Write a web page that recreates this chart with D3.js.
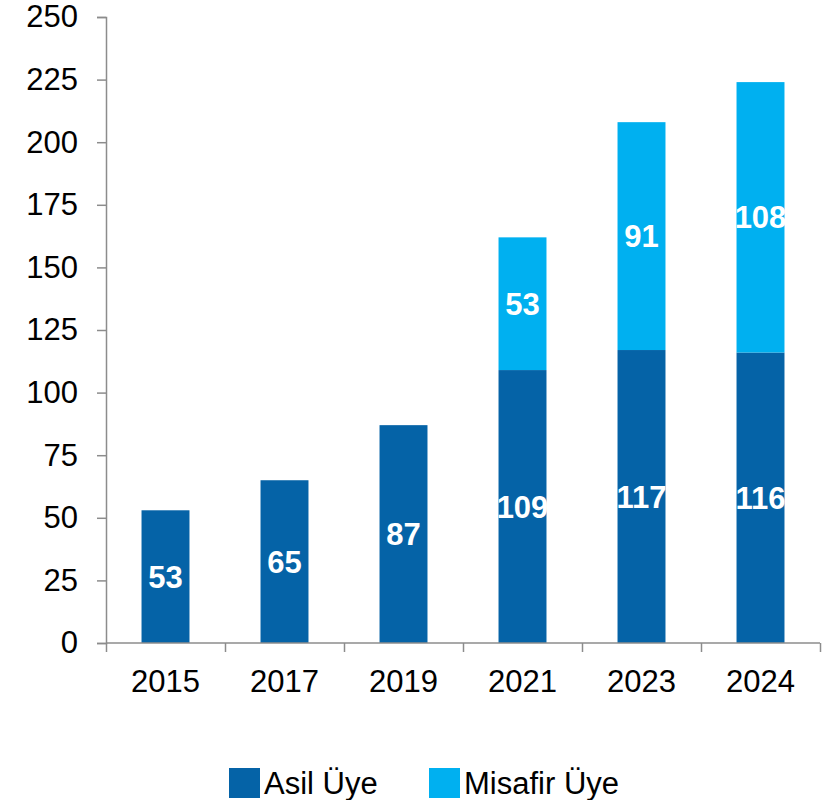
<!DOCTYPE html>
<html>
<head>
<meta charset="utf-8">
<script src="https://cdn.jsdelivr.net/npm/d3@7"></script>
<style>
  body { margin: 0; background: #fff; }
  text { font-family: "Liberation Sans", Arial, sans-serif; }
</style>
</head>
<body>
<script>
// data
let years = ["2015", "2017", "2019", "2021", "2023", "2024"];
let asil = [53, 65, 87, 109, 117, 116];
let misafir = [null, null, null, 53, 91, 108];
let seriesNames = ["Asil Üye", "Misafir Üye"];
let yTicks = [0, 25, 50, 75, 100, 125, 150, 175, 200, 225, 250];

let margin = {top: 17, right: 18, bottom: 157, left: 106},
	width = 838 - margin.left - margin.right,
	height = 800 - margin.top - margin.bottom;

let colors = ["#0563a7", "#00b0f0"];
let axisColor = "#8c8c8c";

let svg = d3.select("body").append("svg")
	.attr("width", 838)
	.attr("height", 800)
	.append("g")
	.attr("transform", "translate(" + margin.left + "," + margin.top + ")");

let x = d3.scaleBand().domain(years).range([0, width])
	.paddingInner(0.597).paddingOuter(0.2985);
let y = d3.scaleLinear().domain([0, 250]).range([height, 0]);

// stacked rows
let rows = years.map(function(yr, i) {
	return {year: yr, asil: asil[i], misafir: misafir[i] || 0};
});
let stack = d3.stack().keys(["asil", "misafir"])(rows);

// y axis
let yAxis = svg.append("g")
	.call(d3.axisLeft(y).tickValues(yTicks).tickSize(9).tickPadding(19));
yAxis.select(".domain").attr("stroke", axisColor).attr("stroke-width", 1.5);
yAxis.selectAll(".tick line").attr("stroke", axisColor).attr("stroke-width", 1.5);
yAxis.selectAll("text").attr("font-size", 31).attr("fill", "#000")
	.attr("font-family", "'Liberation Sans', Arial, sans-serif");

// bars
stack.forEach(function(s, si) {
	svg.append("g").selectAll("rect")
		.data(s.filter(function(d) { return d[1] > d[0]; }))
		.enter().append("rect")
		.attr("x", function(d) { return x(d.data.year); })
		.attr("y", function(d) { return y(d[1]); })
		.attr("width", x.bandwidth())
		.attr("height", function(d) { return y(d[0]) - y(d[1]); })
		.attr("fill", colors[si]);
});

// value labels
stack.forEach(function(s) {
	svg.append("g").selectAll("text")
		.data(s.filter(function(d) { return d[1] > d[0]; }))
		.enter().append("text")
		.attr("x", function(d) { return x(d.data.year) + x.bandwidth() / 2; })
		.attr("y", function(d) { return y((d[0] + d[1]) / 2); })
		.attr("dy", "0.36em")
		.attr("text-anchor", "middle")
		.attr("font-size", 31)
		.attr("font-weight", "bold")
		.attr("fill", "#fff")
		.text(function(d) { return d[1] - d[0]; });
});

// x axis: tick marks sit between categories
let xb = d3.scaleLinear().domain([0, years.length]).range([0, width]);
let xTicks = svg.append("g")
	.attr("transform", "translate(0," + height + ")")
	.call(d3.axisBottom(xb).tickValues(d3.range(years.length + 1)).tickSize(9).tickFormat(""));
xTicks.select(".domain").remove();
xTicks.selectAll(".tick line").attr("stroke", axisColor).attr("stroke-width", 1.5);
svg.append("line")
	.attr("x1", 0).attr("x2", width)
	.attr("y1", height).attr("y2", height)
	.attr("stroke", axisColor).attr("stroke-width", 1.5);

let xAxis = svg.append("g")
	.attr("transform", "translate(0," + height + ")")
	.call(d3.axisBottom(x).tickSize(0).tickPadding(27));
xAxis.select(".domain").remove();
xAxis.selectAll("text").attr("font-size", 31).attr("fill", "#000")
	.attr("font-family", "'Liberation Sans', Arial, sans-serif");

// legend
let legendX = [229, 429];
let legend = d3.select("svg").append("g");
seriesNames.forEach(function(name, i) {
	legend.append("rect")
		.attr("x", legendX[i]).attr("y", 768)
		.attr("width", 31).attr("height", 30)
		.attr("fill", colors[i]);
	legend.append("text")
		.attr("x", legendX[i] + 35).attr("y", 794)
		.attr("font-size", 31)
		.attr("fill", "#000")
		.text(name);
});
</script>
</body>
</html>
